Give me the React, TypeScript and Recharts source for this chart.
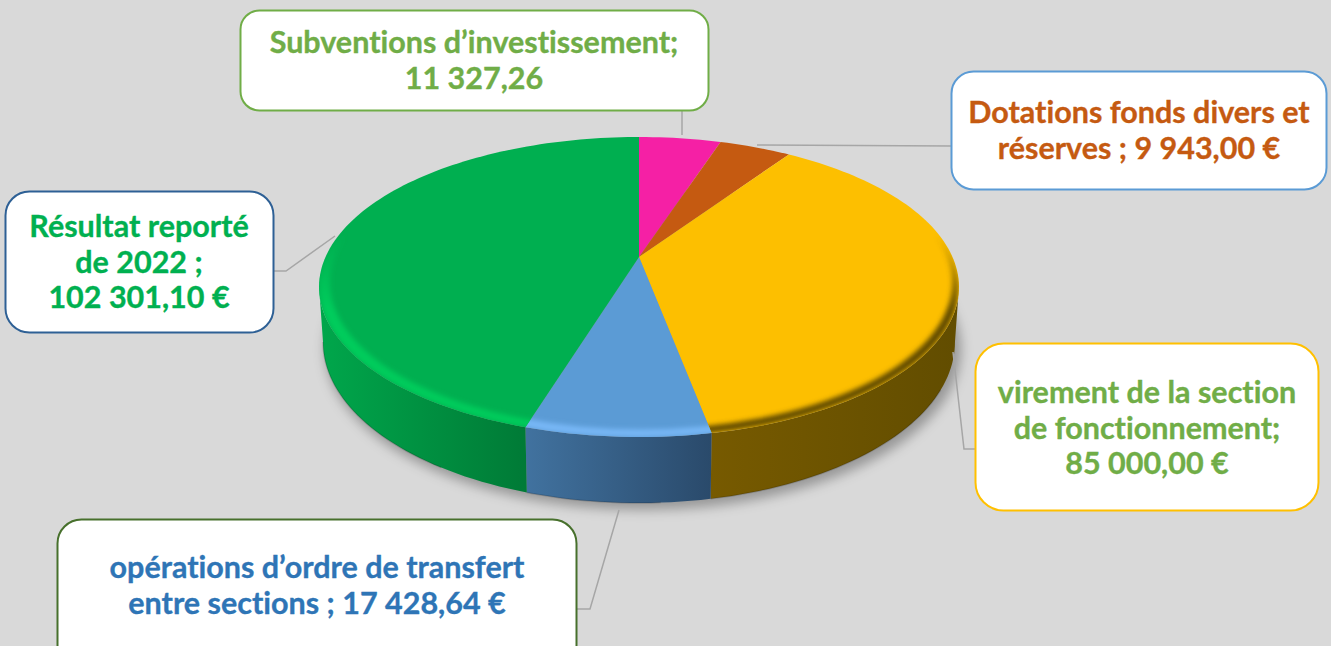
import React from "react";
import { Pie, PieChart } from "recharts";

const CATEGORIES = [
  "Subventions d’investissement",
  "Dotations fonds divers et réserves",
  "virement de la section de fonctionnement",
  "opérations d’ordre de transfert entre sections",
  "Résultat reporté de 2022",
];
const VALUES = [11327.26, 9943.0, 85000.0, 17428.64, 102301.1];
const LABEL_LINES = [
  ["Subventions d’investissement;", "11 327,26"],
  ["Dotations fonds divers et", "réserves ; 9 943,00 €"],
  ["virement de la section", "de fonctionnement;", "85 000,00 €"],
  ["opérations d’ordre de transfert", "entre sections ; 17 428,64 €"],
  ["Résultat reporté", "de 2022 ;", "102 301,10 €"],
];

const SLICE_COLORS = ["#f520a5", "#c55a11", "#fdbf00", "#5b9bd5", "#00af50"];
const TEXT_COLORS = ["#70ad47", "#c55a11", "#70ad47", "#2e75b6", "#00b050"];
const BORDER_COLORS = ["#70ad47", "#5b9bd5", "#ffc000", "#47702c", "#2e6095"];
const RIM_COLORS = ["", "", "#5f4a00", "#78b8f7", "#00cc5c"];
const WALL_STOPS: [string, string][] = [
  ["#000", "#000"],
  ["#000", "#000"],
  ["#775a00", "#624d00"],
  ["#41729f", "#2a4a6b"],
  ["#00a64b", "#007a36"],
];

// callout boxes, one per slice: x, y, width, height, corner radius
const BOXES = [
  { x: 240.5, y: 10.5, w: 468, h: 100, r: 19, text: 474, base: 53 },
  { x: 951.5, y: 71.5, w: 375, h: 118, r: 22, text: 1139, base: 123 },
  { x: 975.5, y: 343.5, w: 343, h: 167, r: 28, text: 1147, base: 403 },
  { x: 57.5, y: 519.5, w: 519, h: 150, r: 24, text: 317, base: 578 },
  { x: 5.5, y: 191.5, w: 268, h: 141, r: 24, text: 139, base: 237 },
];
const LEADERS = [
  "M682,111 L682,135",
  "M951,146 L757,145",
  "M953,352 L964,449 L975,449",
  "M619,510 L590,609 L577,609",
  "M274,271 L286,271 L335,236",
];

const LINE_HEIGHT = 35.5;
const FONT = "Lato, 'Open Sans', sans-serif";

// the pie lies on a tilted plane, so the centre sits above the middle of the ellipse
const TILT = 144 / 313.5;
const PERSPECTIVE = 0.2;
const WALL_FROM = 101.54;
const WALL_TO = 258.46;

const data = CATEGORIES.map((name, idx) => ({ name, idx, value: VALUES[idx], fill: SLICE_COLORS[idx] }));

function makeProjector(cx: number, cy: number, r: number) {
  return (deg: number): [number, number] => {
    const a = (deg * Math.PI) / 180;
    const X = Math.sin(a);
    const Y = -Math.cos(a);
    const d = 1 - PERSPECTIVE * Y;
    return [cx + (r * X) / d, cy + (r * TILT * Y) / d];
  };
}

// the lower face is a slightly narrower, taller ellipse further down
function toBottom([x, y]: [number, number], cx: number): [number, number] {
  return [cx + (x - cx) * (316 / 320), 342 + (y - 287) * (161 / 150)];
}

function sample(from: number, to: number) {
  const out: number[] = [];
  for (let t = from; t < to; t += 1.5) out.push(t);
  out.push(to);
  return out;
}

const pts = (list: [number, number][]) => list.map((p) => `${p[0].toFixed(2)},${p[1].toFixed(2)}`).join(" L");

function Slice(props: any) {
  const { cx, cy, outerRadius, startAngle, endAngle, fill } = props;
  const idx = props.idx ?? props.payload?.idx ?? 0;
  const project = makeProjector(cx, cy, outerRadius);
  const a = 90 - Math.max(startAngle, endAngle);
  const b = 90 - Math.min(startAngle, endAngle);
  const top = sample(a, b).map(project);
  const surface = `M${cx},${cy} L${pts(top)} Z`;

  const wa = Math.max(a, WALL_FROM);
  const wb = Math.min(b, WALL_TO);
  const hasWall = wa < wb;
  let wall = "";
  let foot = "";
  let x1 = 0;
  let x2 = 0;
  if (hasWall) {
    const edge = sample(wa, wb).map(project);
    const low = edge.map((p) => toBottom(p, cx));
    wall = `M${pts(edge)} L${pts([...low].reverse())} Z`;
    foot = `M${pts(low.slice(Math.floor(low.length / 4)))}`;
    x1 = Math.min(...low.map((p) => p[0]));
    x2 = Math.max(...low.map((p) => p[0]));
  }

  return (
    <g>
      {hasWall && (
        <>
          <defs>
            <linearGradient id={`wall-${idx}`} gradientUnits="userSpaceOnUse" x1={x1} x2={x2} y1={0} y2={0}>
              <stop offset="0" stopColor={WALL_STOPS[idx][0]} />
              <stop offset="1" stopColor={WALL_STOPS[idx][1]} />
            </linearGradient>
            <linearGradient id={`rim-${idx}`} gradientUnits="userSpaceOnUse" x1={0} x2={0} y1={235} y2={310}>
              <stop offset="0" stopColor={RIM_COLORS[idx]} stopOpacity={0} />
              <stop offset="1" stopColor={RIM_COLORS[idx]} stopOpacity={1} />
            </linearGradient>
            <clipPath id={`top-${idx}`}>
              <path d={surface} />
            </clipPath>
          </defs>
          <path d={wall} fill={`url(#wall-${idx})`} />
          <path d={foot} fill="none" stroke="#000" strokeOpacity={0.16} strokeWidth={1.5} />
        </>
      )}
      <path d={surface} fill={fill} />
      {hasWall && (
        <g clipPath={`url(#top-${idx})`}>
          <path
            fillRule="evenodd"
            fill={`url(#rim-${idx})`}
            filter="url(#rim-blur)"
            d="M319,287 A320,150 0 1,1 959,287 A320,150 0 1,1 319,287 Z M330,283 A310,146 0 1,0 952,283 A310,146 0 1,0 330,283 Z"
          />
        </g>
      )}
    </g>
  );
}

function Callout(props: any) {
  const idx = props.idx ?? props.payload?.idx ?? props.index ?? 0;
  const box = BOXES[idx];
  return (
    <g>
      <path d={LEADERS[idx]} fill="none" stroke="#a6a6a6" strokeWidth={1.5} />
      <rect
        x={box.x}
        y={box.y}
        width={box.w}
        height={box.h}
        rx={box.r}
        fill="#fff"
        stroke={BORDER_COLORS[idx]}
        strokeWidth={2}
      />
      <text
        textAnchor="middle"
        fontFamily={FONT}
        fontWeight={700}
        fontSize={30.5}
        fill={TEXT_COLORS[idx]}
        stroke={TEXT_COLORS[idx]}
        strokeWidth={0.35}
        style={{ fontVariantLigatures: "none" }}
      >
        {LABEL_LINES[idx].map((line, i) => (
          <tspan key={i} x={box.text} y={box.base + i * LINE_HEIGHT}>
            {line}
          </tspan>
        ))}
      </text>
    </g>
  );
}

export default function App() {
  return (
    <div style={{ position: "absolute", left: 0, top: 0, width: 1331, height: 646, background: "#d9d9d9", overflow: "hidden" }}>
      <PieChart width={1331} height={646} margin={{ top: 0, right: 0, bottom: 0, left: 0 }}>
        <defs>
          <filter id="rim-blur" x="-5%" y="-5%" width="110%" height="110%">
            <feGaussianBlur stdDeviation="2.4" />
          </filter>
          <filter id="pie-shadow" x="-10%" y="-10%" width="120%" height="120%">
            <feGaussianBlur stdDeviation="6" />
          </filter>
        </defs>
        <ellipse cx={643} cy={349} rx={318} ry={161} fill="#000" fillOpacity={0.3} filter="url(#pie-shadow)" />
        <Pie
          data={data}
          dataKey="value"
          nameKey="name"
          cx={639}
          cy={257}
          outerRadius={313.5}
          startAngle={90}
          endAngle={-270}
          stroke="none"
          labelLine={false}
          label={(p: any) => <Callout {...p} />}
          shape={(p: any) => <Slice {...p} />}
          isAnimationActive={false}
        />
      </PieChart>
    </div>
  );
}
